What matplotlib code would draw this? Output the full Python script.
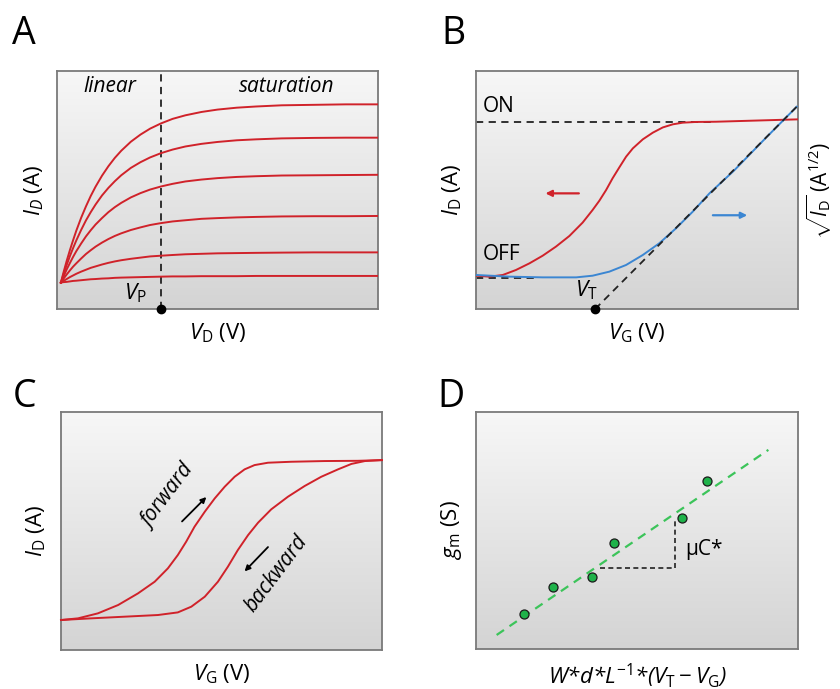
import numpy as np
import matplotlib
matplotlib.use("Agg")
import matplotlib.pyplot as plt
from matplotlib.colors import LinearSegmentedColormap

plt.rcParams["font.family"] = ["Open Sans", "DejaVu Sans"]
plt.rcParams["mathtext.fontset"] = "custom"
plt.rcParams["mathtext.rm"] = "Open Sans"
plt.rcParams["mathtext.it"] = "Open Sans:italic"
plt.rcParams["mathtext.bf"] = "Open Sans:bold"

RED = "#d0222a"
BLUE = "#3b86d2"
GREEN = "#3cc45a"

# ---- panel A: output curves (axes units 0-100) ----
a_vd = [1.2, 2, 3, 4, 5, 6, 7.5, 9, 10.5, 12, 14, 16, 18, 20, 23, 26, 29, 32.4,
        36, 40, 45, 50, 56, 62, 70, 80, 90, 100]
a_id = [
    [11.1, 15.3, 20.2, 24.7, 28.9, 32.9, 38.3, 43.1, 47.5, 51.4, 56.0, 60.0, 63.5, 66.5,
     70.3, 73.3, 75.8, 78.0, 79.9, 81.4, 82.8, 83.8, 84.6, 85.1, 85.6, 85.8, 86.0, 86.0],
    [11.1, 14.5, 18.5, 22.2, 25.6, 28.8, 33.2, 37.2, 40.7, 43.9, 47.7, 50.9, 53.7, 56.2,
     59.3, 61.7, 63.7, 65.5, 67.0, 68.3, 69.4, 70.2, 70.9, 71.3, 71.7, 71.9, 72.0, 72.0],
    [11.1, 13.6, 16.6, 19.3, 21.9, 24.3, 27.5, 30.5, 33.1, 35.5, 38.2, 40.7, 42.8, 44.6,
     46.9, 48.7, 50.2, 51.5, 52.6, 53.6, 54.4, 55.0, 55.5, 55.8, 56.1, 56.2, 56.3, 56.4],
    [11.1, 12.7, 14.5, 16.2, 17.8, 19.2, 21.2, 23.1, 24.7, 26.2, 27.9, 29.4, 30.7, 31.8,
     33.2, 34.3, 35.3, 36.1, 36.8, 37.3, 37.9, 38.2, 38.5, 38.7, 38.9, 39.0, 39.0, 39.1],
    [11.1, 11.8, 12.6, 13.4, 14.1, 14.8, 15.7, 16.5, 17.3, 17.9, 18.7, 19.4, 20.0, 20.5,
     21.1, 21.6, 22.1, 22.4, 22.7, 23.0, 23.2, 23.4, 23.5, 23.6, 23.7, 23.8, 23.8, 23.8],
    [11.1, 11.3, 11.4, 11.6, 11.8, 11.9, 12.1, 12.3, 12.5, 12.6, 12.8, 12.9, 13.1, 13.2,
     13.3, 13.4, 13.5, 13.6, 13.7, 13.7, 13.8, 13.8, 13.8, 13.9, 13.9, 13.9, 13.9, 13.9],
]
a_vp = 32.4

# ---- panel B: transfer curve ----
b_vg_red = [0, 4.1, 8.3, 12.4, 16.6, 20.7, 24.8, 29.0, 33.1, 36.2, 38.3, 40.4, 42.4,
            44.5, 46.6, 48.7, 51.8, 54.9, 58.0, 61.1, 64.2, 68.3, 74.5, 100]
b_id_red = [14.0, 13.6, 14.3, 16.4, 19.2, 22.4, 26.2, 30.7, 36.3, 41.6, 45.5, 50.0, 54.9,
            59.5, 64.0, 67.5, 71.3, 74.1, 76.3, 77.6, 78.3, 78.6, 78.7, 79.7]
b_vg_blue = [0, 10.4, 20.7, 31.1, 36.2, 41.4, 46.6, 51.8, 56.9, 62.1, 67.3, 72.5, 80.0,
             90.0, 99.6]
b_sqrt_blue = [14.3, 13.6, 13.3, 13.3, 14.0, 15.7, 18.5, 22.7, 27.6, 33.9, 40.9, 48.6,
               58.0, 71.9, 85.0]
b_on, b_off = 78.4, 12.9
b_vt = 37.0
b_fit_end = (99.6, 85.0)

# ---- panel C: hysteresis ----
c_vg_fwd = [0, 5.3, 11.5, 17.8, 24.0, 29.2, 33.3, 36.4, 39.0, 41.6, 44.8, 47.9, 51.0,
            54.1, 57.2, 60.3, 64.5, 71.7, 82.1, 92.5, 100]
c_id_fwd = [12.6, 13.3, 15.4, 18.9, 23.8, 28.7, 34.3, 39.9, 45.5, 51.8, 58.1, 63.7, 68.6,
            72.8, 75.9, 77.7, 78.7, 79.1, 79.4, 79.5, 79.8]
c_vg_bwd = [0, 9.4, 19.8, 30.2, 36.4, 40.6, 44.8, 48.9, 52.0, 55.1, 58.3, 61.4, 65.5,
            70.7, 75.9, 81.1, 86.3, 90.5, 94.7, 100]
c_id_bwd = [12.6, 13.3, 14.0, 14.7, 15.8, 18.2, 22.4, 28.7, 35.0, 42.0, 48.3, 53.5, 59.1,
            64.4, 68.9, 72.8, 75.9, 78.2, 79.4, 79.8]

# ---- panel D: transconductance vs geometry ----
d_x = [15.0, 24.0, 36.1, 42.9, 64.1, 71.8]
d_gm = [14.8, 26.3, 30.3, 44.9, 55.1, 70.9]
d_fit_x = [6.4, 90.8]
d_fit_y = [5.9, 84.0]

grad_cmap = LinearSegmentedColormap.from_list("bg", ["#d4d4d4", "#f7f7f7"])


def setup(ax):
    ax.set_xlim(0, 100)
    ax.set_ylim(0, 100)
    ax.set_xticks([])
    ax.set_yticks([])
    grad = np.linspace(0, 1, 256).reshape(-1, 1)
    ax.imshow(grad, extent=(0, 100, 0, 100), origin="lower", aspect="auto",
              cmap=grad_cmap, zorder=0)
    for s in ax.spines.values():
        s.set_color("#7a7a7a")
        s.set_linewidth(1.3)


fig = plt.figure(figsize=(8.4, 6.89), dpi=100)
axA = fig.add_axes([0.0679, 0.5515, 0.3821, 0.3454])
axB = fig.add_axes([0.5667, 0.5515, 0.3833, 0.3454])
axC = fig.add_axes([0.0726, 0.0566, 0.3821, 0.3454])
axD = fig.add_axes([0.5667, 0.0581, 0.3833, 0.3440])
for ax in (axA, axB, axC, axD):
    setup(ax)

lab_fs = 16
dash = (0, (4, 3))

# A
for curve in a_id:
    axA.plot(a_vd, curve, color=RED, lw=1.4, zorder=3)
axA.axvline(a_vp, color="#222222", lw=1.3, ls=dash, zorder=2)
axA.plot([a_vp], [0], "o", color="black", ms=6, clip_on=False, zorder=5)
axA.text(16.5, 93.4, "linear", style="italic", fontsize=15, ha="center", va="center")
axA.text(71.5, 93.4, "saturation", style="italic", fontsize=15, ha="center", va="center")
axA.text(24.3, 6.5, r"$V_\mathrm{P}$", fontsize=16, ha="center", va="center")
axA.set_xlabel(r"$V_\mathrm{D}$ (V)", fontsize=lab_fs, labelpad=9)
axA.set_ylabel(r"$I_D$ (A)", fontsize=lab_fs, labelpad=8)

# B
axB.plot([0, 73], [b_on, b_on], color="#222222", lw=1.3, ls=dash, zorder=2)
axB.plot([0, 19], [b_off, b_off], color="#222222", lw=1.3, ls=dash, zorder=2)
axB.plot(b_vg_red, b_id_red, color=RED, lw=1.4, zorder=3)
axB.plot(b_vg_blue, b_sqrt_blue, color=BLUE, lw=1.4, zorder=3)
axB.plot([b_vt, b_fit_end[0]], [0, b_fit_end[1]], color="#222222", lw=1.3,
         ls=dash, zorder=4)
axB.plot([b_vt], [0], "o", color="black", ms=6, clip_on=False, zorder=5)
axB.annotate("", xy=(20.7, 48.6), xytext=(32.8, 48.6),
             arrowprops=dict(arrowstyle="-|>", color=RED, lw=1.6, mutation_scale=9))
axB.annotate("", xy=(85.1, 39.4), xytext=(72.7, 39.4),
             arrowprops=dict(arrowstyle="-|>", color=BLUE, lw=1.6, mutation_scale=9))
axB.text(6.9, 85.0, "ON", fontsize=15, ha="center", va="center")
axB.text(7.8, 22.7, "OFF", fontsize=15, ha="center", va="center")
axB.text(34.4, 8.0, r"$V_\mathrm{T}$", fontsize=16, ha="center", va="center")
axB.set_xlabel(r"$V_\mathrm{G}$ (V)", fontsize=lab_fs, labelpad=9)
axB.set_ylabel(r"$I_\mathrm{D}$ (A)", fontsize=lab_fs, labelpad=9)
axB2 = axB.twinx()
axB2.set_ylim(0, 100)
axB2.set_yticks([])
for s in axB2.spines.values():
    s.set_visible(False)
axB2.set_ylabel(r"$\sqrt{I_\mathrm{D}}$ (A$^{1/2}$)", fontsize=15, labelpad=5)

# C
axC.plot(c_vg_fwd, c_id_fwd, color=RED, lw=1.4, zorder=3, clip_on=False)
axC.plot(c_vg_bwd, c_id_bwd, color=RED, lw=1.4, zorder=3, clip_on=False)
axC.annotate("", xy=(45.9, 65.1), xytext=(37.1, 53.2),
             arrowprops=dict(arrowstyle="-|>", color="black", lw=1.3, mutation_scale=8))
axC.annotate("", xy=(56.6, 32.2), xytext=(65.1, 44.1),
             arrowprops=dict(arrowstyle="-|>", color="black", lw=1.3, mutation_scale=8))
axC.text(33.4, 64.4, "forward", style="italic", fontsize=15, rotation=53,
         ha="center", va="center", rotation_mode="anchor")
axC.text(67.2, 32.2, "backward", style="italic", fontsize=15, rotation=53,
         ha="center", va="center", rotation_mode="anchor")
axC.set_xlabel(r"$V_\mathrm{G}$ (V)", fontsize=lab_fs, labelpad=9)
axC.set_ylabel(r"$I_\mathrm{D}$ (A)", fontsize=lab_fs, labelpad=9)

# D
axD.plot(d_fit_x, d_fit_y, color=GREEN, lw=1.6, ls=dash, zorder=2)
axD.plot([38.5, 61.8], [34.0, 34.0], color="#222222", lw=1.2, ls=(0, (3, 2)), zorder=2)
axD.plot([61.8, 61.8], [34.0, 55.1], color="#222222", lw=1.2, ls=(0, (3, 2)), zorder=2)
axD.plot(d_x, d_gm, "o", color="#1fb24a", mec="#1a1a1a", mew=0.9, ms=6.5, zorder=4)
axD.text(65.0, 41.8, "\u03bcC*", fontsize=15, ha="left", va="center")
axD.set_xlabel(r"$W$*$d$*$L^{-1}$*($V_\mathrm{T} - V_\mathrm{G}$)", fontsize=lab_fs,
               labelpad=9, style="italic")
axD.set_ylabel(r"$g_\mathrm{m}$ (S)", fontsize=lab_fs, labelpad=9)

for lbl, x, y in [("A", 12, 15), ("B", 441, 15), ("C", 13, 378), ("D", 437, 378)]:
    fig.text(x / 840, 1 - y / 689, lbl, fontsize=27, ha="left", va="top")

fig.savefig("out.png", dpi=100)
